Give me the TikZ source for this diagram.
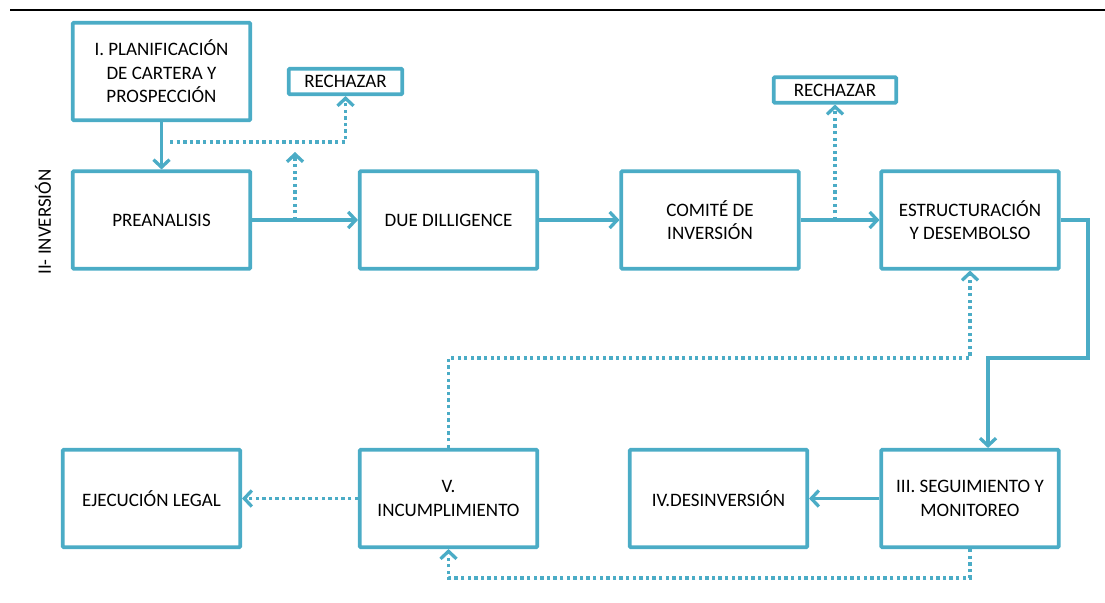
\documentclass[tikz,border=0pt]{standalone}
\usepackage{fontspec}
\setmainfont{Carlito}
\usetikzlibrary{arrows.meta}
\definecolor{aqua}{HTML}{4BACC6}
\begin{document}
\begin{tikzpicture}[x=1pt,y=-1pt,
  box/.style={draw=aqua, line width=3.6pt, rounded corners=1pt, align=center,
    font=\fontsize{19}{23.5}\selectfont, inner sep=2pt},
  big/.style={box, minimum width=177.5pt, minimum height=97.5pt},
  small/.style={box, minimum height=25.5pt, inner sep=1pt},
  arr/.style={draw=aqua, line width=3.3pt, -{Straight Barb[length=7.5pt,width=16pt]}},
  dotarr/.style={arr, dash pattern=on 3.3pt off 3.3pt},
]
\useasboundingbox (0,0) rectangle (1105,602);
\coordinate (tl) at (10,10);
\coordinate (tr) at (1105,10);
\draw[line width=2.6pt] (tl) -- (tr);

\node[big] (planif) at (161.5,71.5) {I. PLANIFICACIÓN\\DE CARTERA Y\\PROSPECCIÓN};
\node[small, minimum width=113.5pt] (rech1) at (345.5,81.5) {RECHAZAR};
\node[big] (pre) at (161.5,220) {PREANALISIS};
\node[big] (due) at (448.5,220) {DUE DILLIGENCE};
\node[big] (com) at (710,220) {COMITÉ DE\\INVERSIÓN};
\node[small, minimum width=122.5pt] (rech2) at (835,90) {RECHAZAR};
\node[big] (estr) at (970,220) {ESTRUCTURACIÓN\\Y DESEMBOLSO};
\node[big] (iii) at (970,498.5) {III. SEGUIMIENTO Y\\MONITOREO};
\node[big] (iv) at (718.5,498.5) {IV.DESINVERSIÓN};
\node[big] (v) at (448.5,498.5) {V.\\INCUMPLIMIENTO};
\node[big] (ejec) at (151.5,498.5) {EJECUCIÓN LEGAL};

\node[font=\fontsize{19}{23}\selectfont, rotate=90] (lab) at (43,222) {II- INVERSIÓN};

% solid connectors
\draw[arr] (planif) -- (pre);
\draw[arr] (pre) -- (due);
\draw[arr] (due) -- (com);
\draw[arr] (com) -- (estr);
\draw[arr] (estr.east) -- (1088,220) -- (1088,358) -- (988,358) -- ([xshift=18]iii.north);
\draw[arr] (iii) -- (iv);

% dotted connectors
\coordinate (d1) at (170,142);
\draw[dotarr] (d1) -| (rech1.south);
\coordinate (d2) at (295,220);
\coordinate (d2e) at (295,152);
\draw[dotarr] (d2) -- (d2e);
\coordinate (d3) at (835,220);
\draw[dotarr] (d3) -- (rech2.south);
\draw[dotarr] (v.north) -- (448.5,358) -| (estr.south);
\draw[dotarr] (iii.south) -- (970,578) -| (v.south);
\draw[dotarr] (v) -- (ejec);
\end{tikzpicture}
\end{document}
